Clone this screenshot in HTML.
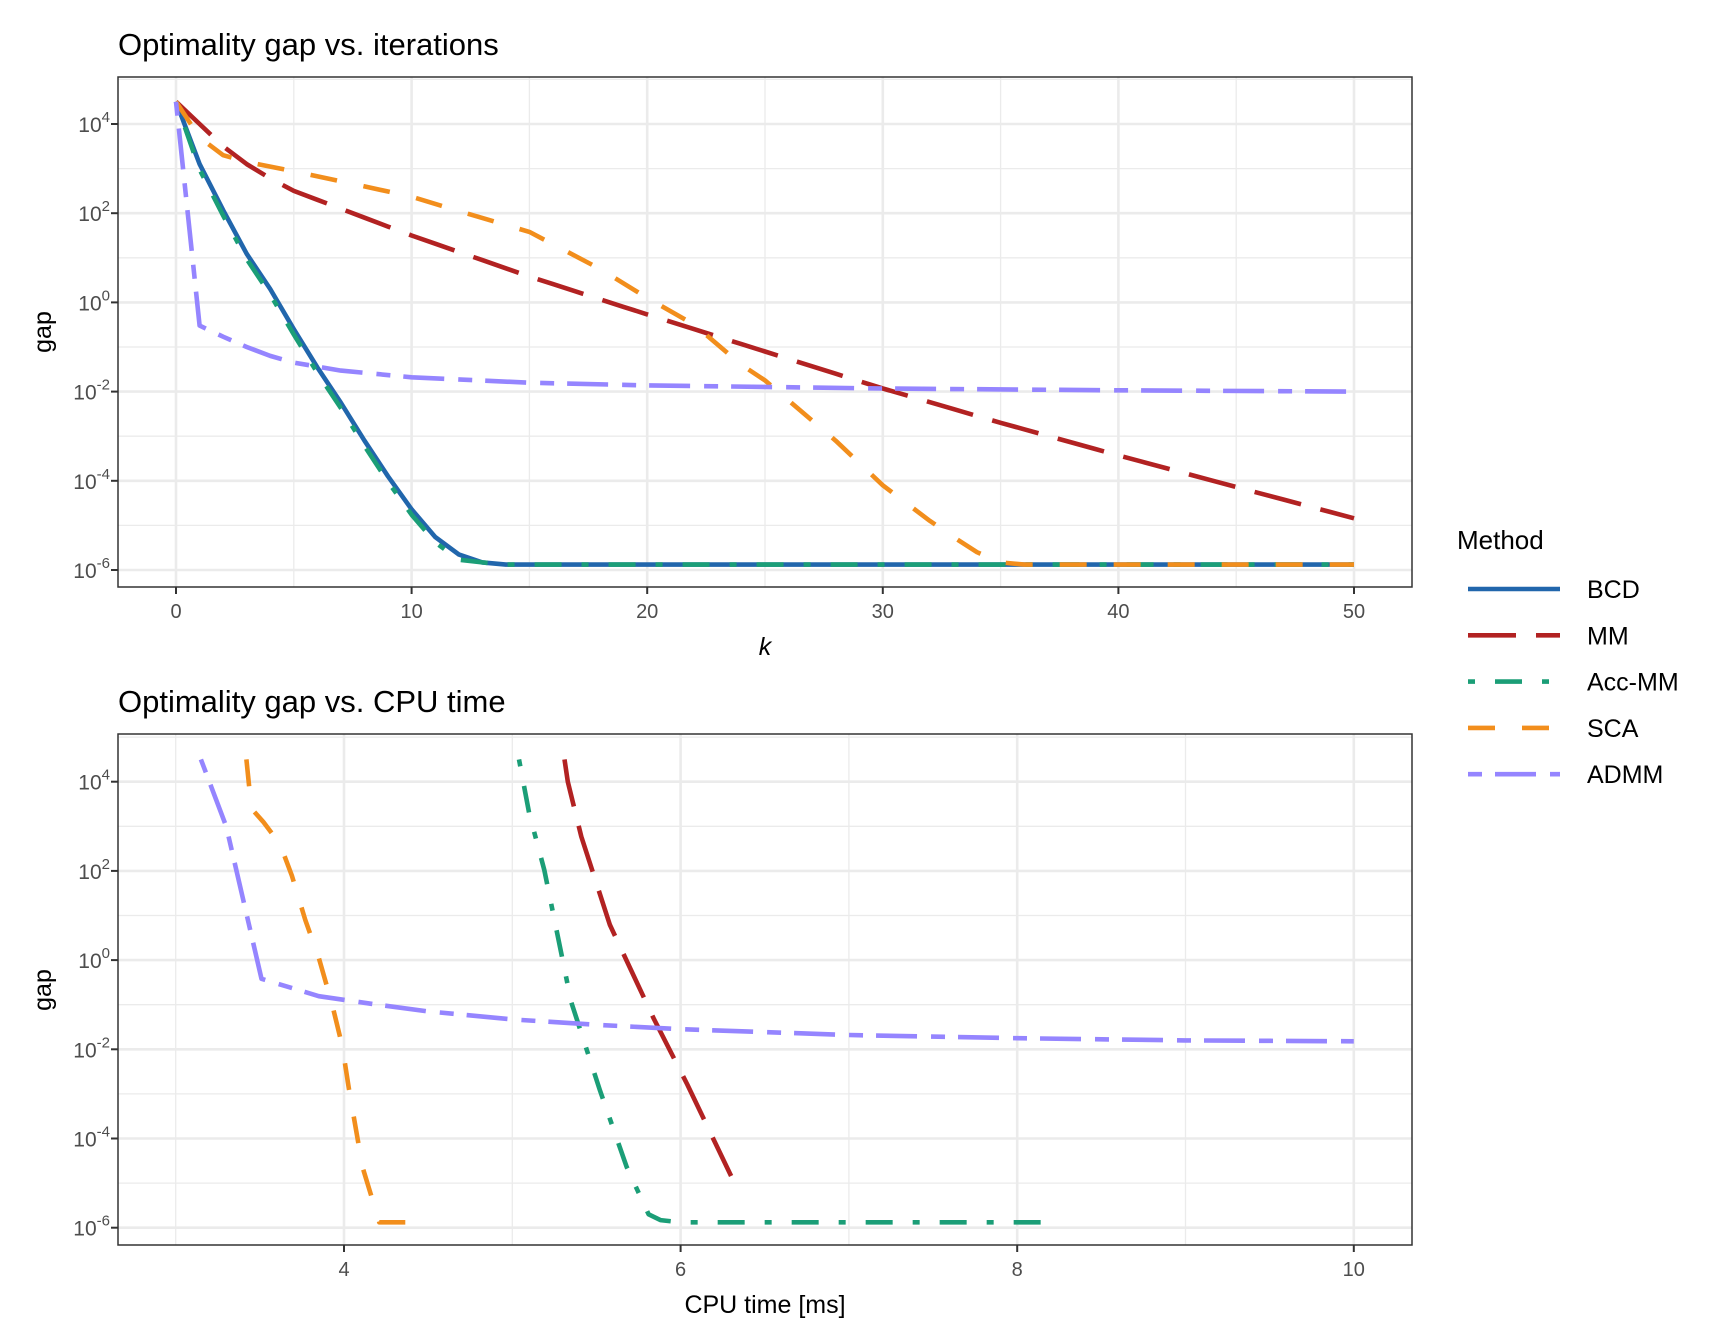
<!DOCTYPE html>
<html><head><meta charset="utf-8"><style>
html,body{margin:0;padding:0;background:#fff;}
svg{display:block;font-family:"Liberation Sans",Arial,sans-serif;}
</style></head><body>
<svg id="s" width="1728" height="1344" xmlns="http://www.w3.org/2000/svg"></svg>
<script>
const S=document.getElementById('s');let h='';
const L=118,R=1412;
function panel(top,bot,y4,xmap,xmaj,xmin,xlabels,tickBase){
  const ly=v=>y4+(4-v)*44.6;
  h+=`<rect x="${L}" y="${top}" width="${R-L}" height="${bot-top}" fill="#fff"/>`;
  for(const e of [5,3,1,-1,-3,-5]){const y=ly(e);if(y>top&&y<bot)h+=`<line x1="${L}" x2="${R}" y1="${y}" y2="${y}" stroke="#ebebeb" stroke-width="1.3"/>`;}
  for(const x of xmin)h+=`<line x1="${xmap(x)}" x2="${xmap(x)}" y1="${top}" y2="${bot}" stroke="#ebebeb" stroke-width="1.3"/>`;
  for(const e of [4,2,0,-2,-4,-6]){const y=ly(e);h+=`<line x1="${L}" x2="${R}" y1="${y}" y2="${y}" stroke="#ebebeb" stroke-width="2.6"/>`;
    h+=`<line x1="${L-7}" x2="${L}" y1="${y}" y2="${y}" stroke="#333" stroke-width="2"/>`;
    h+=`<text x="${L-8}" y="${y+8}" font-size="21" fill="#4d4d4d" text-anchor="end">10<tspan dy="-10" font-size="15">${e<0?'-'+(-e):e}</tspan></text>`;}
  for(let i=0;i<xmaj.length;i++){const x=xmap(xmaj[i]);h+=`<line x1="${x}" x2="${x}" y1="${top}" y2="${bot}" stroke="#ebebeb" stroke-width="2.6"/>`;
    h+=`<line x1="${x}" x2="${x}" y1="${bot}" y2="${bot+7}" stroke="#333" stroke-width="2"/>`;
    h+=`<text x="${x}" y="${tickBase}" font-size="20" fill="#4d4d4d" text-anchor="middle">${xlabels[i]}</text>`;}
  return ly;
}
const C={BCD:'#2166AC',MM:'#B22222',ACC:'#1B9E77',SCA:'#F28E1C',ADMM:'#9585FF'};
const D={BCD:'none',MM:'48 20',ACC:'7 20 27 20',SCA:'27 27',ADMM:'14 13 41 14'};
function line(pts,xm,ly,k,clip){
  h+=`<polyline clip-path="url(#${clip})" points="${pts.map(p=>xm(p[0]).toFixed(1)+','+ly(p[1]).toFixed(1)).join(' ')}" fill="none" stroke="${C[k]}" stroke-width="4.6" stroke-dasharray="${D[k]}" stroke-linejoin="round"/>`;
}
h+=`<defs><clipPath id="c1"><rect x="${L}" y="77" width="${R-L}" height="510"/></clipPath><clipPath id="c2"><rect x="${L}" y="734" width="${R-L}" height="511"/></clipPath></defs>`;
const xm1=v=>176+v*23.56;
const ly1=panel(77,587,124,xm1,[0,10,20,30,40,50],[5,15,25,35,45],['0','10','20','30','40','50'],618);
const flat=(a,b,v)=>{const r=[];for(let k=a;k<=b;k++)r.push([k,v]);return r;};
let bcd=[[0,4.5],[1,3.1],[2,2.07],[3,1.09],[4,0.3],[5,-0.6],[6,-1.46],[7,-2.25],[8,-3.1],[9,-3.9],[10,-4.64],[11,-5.26],[12,-5.65],[13,-5.83],...flat(14,50,-5.88)];
let acc=bcd.map((p,i)=>[p[0],i>0&&p[0]<13?p[1]-0.12:p[1]]);
const mmK=[[0,4.5],[1,4.0],[2,3.5],[3,3.1],[4,2.78],[5,2.5],[7,2.1],[10,1.5],[15,0.58],[20,-0.27],[25,-1.1],[30,-1.93],[35,-2.7],[40,-3.43],[45,-4.14],[50,-4.84]];
let mm=[];for(let k=0;k<=50;k++){for(let i=0;i<mmK.length-1;i++){const a=mmK[i],b=mmK[i+1];if(k>=a[0]&&k<=b[0]){mm.push([k,a[1]+(b[1]-a[1])*(k-a[0])/(b[0]-a[0])]);break;}}}
let sca=[[0,4.5],[1,3.7],[2,3.3],[3,3.15],[5,2.94],[8,2.6],[10,2.37],[12,2.05],[15,1.58],[18,0.75],[20,0.1],[22,-0.5],[24,-1.4],[25,-1.75],[26,-2.2],[28,-3.1],[30,-4.1],[32,-4.9],[33,-5.26],[34,-5.6],[35,-5.83],...flat(36,50,-5.88)];
let ad=[[0,4.5],[1,-0.52],[2,-0.77],[3,-1.0],[4,-1.2],[5,-1.35],[7,-1.53],[10,-1.68],[15,-1.8],[20,-1.86],[30,-1.93],[40,-1.97],[50,-2.0]];
line(bcd,xm1,ly1,'BCD','c1');line(mm,xm1,ly1,'MM','c1');line(acc,xm1,ly1,'ACC','c1');line(sca,xm1,ly1,'SCA','c1');line(ad,xm1,ly1,'ADMM','c1');
h+=`<rect x="${L}" y="77" width="${R-L}" height="510" fill="none" stroke="#333" stroke-width="1.5"/>`;
const xm2=v=>344+(v-4)*168.3;
const ly2=panel(734,1245,781.7,xm2,[4,6,8,10],[3,5,7,9],['4','6','8','10'],1276);
line([[5.31,4.5],[5.33,4.0],[5.41,2.77],[5.58,0.79],[5.84,-1.31],[6.04,-2.79],[6.3,-4.84]],xm2,ly2,'MM','c2');
line([[5.04,4.5],[5.1,3.3],[5.19,2.02],[5.35,-0.94],[5.52,-2.91],[5.68,-4.64],[5.81,-5.7],[5.88,-5.83],[6.0,-5.88],[8.16,-5.88]],xm2,ly2,'ACC','c2');
line([[3.42,4.5],[3.45,3.4],[3.52,3.1],[3.62,2.6],[3.69,1.9],[3.77,0.9],[3.85,0.05],[3.93,-1.0],[3.99,-1.93],[4.03,-2.9],[4.11,-4.64],[4.21,-5.88],[4.38,-5.88]],xm2,ly2,'SCA','c2');
line([[3.15,4.5],[3.3,3.0],[3.51,-0.42],[3.85,-0.81],[4.2,-1.0],[4.5,-1.15],[5,-1.33],[5.5,-1.45],[6,-1.55],[7,-1.68],[8,-1.75],[9,-1.8],[10,-1.82]],xm2,ly2,'ADMM','c2');
h+=`<rect x="${L}" y="734" width="${R-L}" height="511" fill="none" stroke="#333" stroke-width="1.5"/>`;
h+=`<text x="118" y="55" font-size="31" fill="#000">Optimality gap vs. iterations</text>`;
h+=`<text x="118" y="712" font-size="31" fill="#000">Optimality gap vs. CPU time</text>`;
h+=`<text x="765" y="655" font-size="25" font-style="italic" text-anchor="middle">k</text>`;
h+=`<text x="765" y="1313" font-size="25" text-anchor="middle">CPU time [ms]</text>`;
h+=`<text transform="translate(51,332) rotate(-90)" font-size="25" text-anchor="middle">gap</text>`;
h+=`<text transform="translate(51,990) rotate(-90)" font-size="25" text-anchor="middle">gap</text>`;
h+=`<text x="1457" y="549" font-size="26">Method</text>`;
const keys=[['BCD','BCD'],['MM','MM'],['ACC','Acc-MM'],['SCA','SCA'],['ADMM','ADMM']];
keys.forEach((k,i)=>{const y=589+i*46.3;
 h+=`<line x1="1468" x2="1560" y1="${y}" y2="${y}" stroke="${C[k[0]]}" stroke-width="4.6" stroke-dasharray="${D[k[0]]}"/>`;
 h+=`<text x="1587" y="${y+9}" font-size="25">${k[1]}</text>`;});
S.innerHTML=h;
</script>
</body></html>
